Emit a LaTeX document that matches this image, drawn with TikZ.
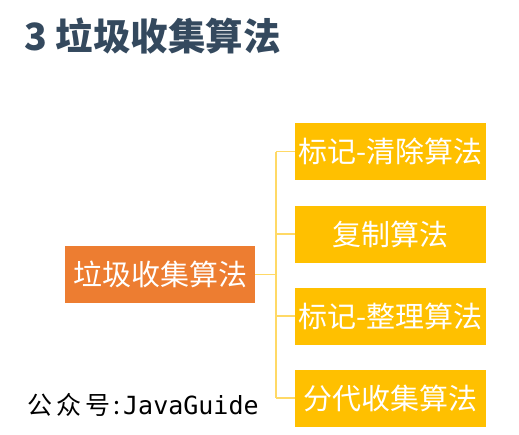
\documentclass[tikz,border=0pt]{standalone}
\usepackage{fontspec}
\setmainfont{Noto Sans CJK SC}
\newfontfamily\markfont{DejaVu Sans Mono}
\definecolor{Title}{HTML}{34495E}
\definecolor{Root}{HTML}{ED7D31}
\definecolor{Algo}{HTML}{FFC000}
\definecolor{Link}{HTML}{FFD966}

\begin{document}
\begin{tikzpicture}[x=1pt, y=-1pt,
  box/.style={minimum width=191pt, minimum height=57pt, inner sep=0pt, text=white, font=\fontsize{29}{32}\selectfont},
  link/.style={draw=Link, line width=1.2pt}]

 \useasboundingbox (0,0) rectangle (519,434);

 %%%%%%%%%% Title %%%%%%%%%%
 \node (title) [anchor=west, inner sep=0pt, text=Title, font=\fontsize{37.5}{40}\selectfont\bfseries] at (24,36) {3 垃圾收集算法};

 %%%%%%%%%% Boxes %%%%%%%%%%
 \node (root) [box, fill=Root, minimum width=190pt] at (160,274.5) {垃圾收集算法};
 \node (mark) [box, fill=Algo] at (390.5,151.5) {标记-清除算法};
 \node (copy) [box, fill=Algo] at (390.5,234) {复制算法};
 \node (compact) [box, fill=Algo] at (390.5,316) {标记-整理算法};
 \node (gen) [box, fill=Algo] at (390.5,398) {分代收集算法};

 %%%%%%%%%% Links %%%%%%%%%%
 \coordinate (hub) at (276,274.5);
 \draw [link] (root.east) -- (hub);
 \draw [link] (hub |- mark) -- (hub |- gen);
 \foreach \n in {mark,copy,compact,gen}
 {
   \draw [link] (hub |- \n) -- (\n.west);
 }

 %%%%%%%%%% Watermark %%%%%%%%%%
 \node (sign) [anchor=west, inner sep=0pt, font=\fontsize{25}{28}\selectfont] at (27,405) {公\hspace{4pt}众\hspace{4pt}号\hspace{3pt}:\hspace{3pt}{\markfont JavaGuide}};

\end{tikzpicture}
\end{document}
